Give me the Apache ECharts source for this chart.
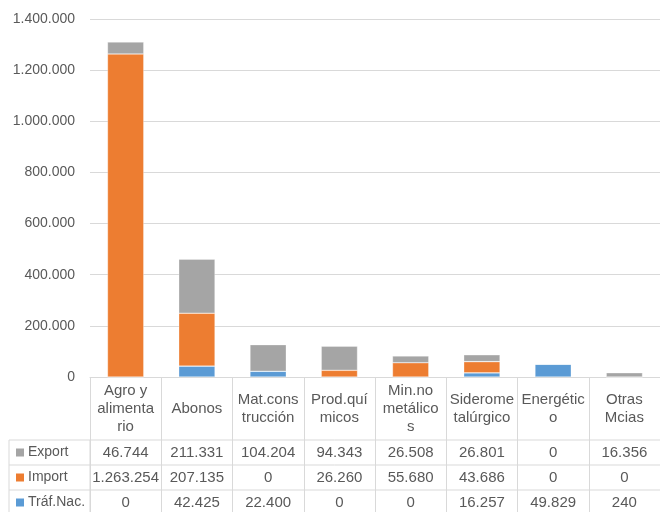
<!DOCTYPE html>
<html>
<head>
<meta charset="utf-8">
<script src="https://cdn.jsdelivr.net/npm/echarts@6/dist/echarts.min.js"></script>
<style>
html,body{margin:0;padding:0;background:#fff;}
#chart{width:660px;height:512px;}
</style>
</head>
<body>
<div id="chart"></div>
<script>
const categories = ['Agro y\nalimenta\nrio','Abonos','Mat.cons\ntrucción','Prod.quí\nmicos','Min.no\nmetálico\ns','Siderome\ntalúrgico','Energétic\no','Otras\nMcias'];
const seriesNames = ['Export','Import','Tráf.Nac.'];
const exportVals = [46744,211331,104204,94343,26508,26801,0,16356];
const importVals = [1263254,207135,0,26260,55680,43686,0,0];
const nacVals = [0,42425,22400,0,0,16257,49829,240];
const yMax = 1400000;
const yStep = 200000;

const colors = {'Export':'#a5a5a5','Import':'#ed7d31','Tráf.Nac.':'#5b9bd5'};
const rowData = {'Export':exportVals,'Import':importVals,'Tráf.Nac.':nacVals};

function fmt(v){
  return String(Math.round(v)).replace(/\B(?=(\d{3})+(?!\d))/g,'.');
}

const FONT = 'Liberation Sans';
const TXT = '#595959';
const LINE = '#d9d9d9';
const gridLeft = 90, gridTop = 19, gridBottom = 135, gridRight = -7;
const headerH = 63, rowH = 25, tableLeft = 9;

const chart = echarts.init(document.getElementById('chart'));

const xAxes = [{
  type:'category', data:categories, gridIndex:0, position:'bottom',
  axisLine:{show:true, lineStyle:{color:LINE, width:1}},
  axisTick:{show:true, length:headerH + rowH*3 + 5, interval:0, lineStyle:{color:LINE, width:1}},
  axisLabel:{interval:0, margin:headerH/2, verticalAlign:'middle', lineHeight:18,
    fontFamily:FONT, fontSize:15, color:TXT}
}];
seriesNames.forEach((name, r) => {
  const vals = rowData[name];
  xAxes.push({
    type:'category', data:categories, gridIndex:0, position:'bottom',
    axisLine:{show:false}, axisTick:{show:false}, splitLine:{show:false},
    axisLabel:{interval:0, margin:headerH + rowH*r + rowH/2, verticalAlign:'middle',
      fontFamily:FONT, fontSize:15, color:TXT,
      formatter:(v, i) => fmt(vals[i])}
  });
});

const stackOrder = ['Tráf.Nac.','Import','Export'];
const series = stackOrder.map(name => ({
  name:name, type:'bar', stack:'total', xAxisIndex:0, yAxisIndex:0,
  data:rowData[name], barWidth:'51%',
  itemStyle:{color:colors[name], borderColor:'rgba(255,255,255,0.5)', borderWidth:0.6},
  emphasis:{disabled:true}
}));

// table lines and row headers
const W = 660, H = 512;
const axisY = H - gridBottom;
const graphics = [];
for (let r = 0; r <= 3; r++) {
  const y = axisY + headerH + rowH*r;
  graphics.push({type:'line', silent:true, shape:{x1:tableLeft, y1:y, x2:W, y2:y},
    style:{stroke:LINE, lineWidth:1}});
}
graphics.push({type:'line', silent:true, shape:{x1:tableLeft, y1:axisY+headerH, x2:tableLeft, y2:H+5},
  style:{stroke:LINE, lineWidth:1}});
graphics.push({type:'line', silent:true, shape:{x1:gridLeft, y1:axisY+headerH, x2:gridLeft, y2:H+5},
  style:{stroke:LINE, lineWidth:1}});
seriesNames.forEach((name, r) => {
  const cy = axisY + headerH + rowH*r + rowH/2;
  graphics.push({type:'rect', silent:true, shape:{x:16, y:cy-4, width:8, height:8},
    style:{fill:colors[name]}});
  graphics.push({type:'text', silent:true, x:28, y:cy,
    style:{text:name, fill:TXT, font:'14px "'+FONT+'"', textVerticalAlign:'middle', verticalAlign:'middle'}});
});

chart.setOption({
  animation:false,
  backgroundColor:'#fff',
  grid:{left:gridLeft, right:gridRight, top:gridTop, bottom:gridBottom, containLabel:false},
  xAxis:xAxes,
  yAxis:{type:'value', min:0, max:yMax, interval:yStep,
    axisLine:{show:false}, axisTick:{show:false},
    splitLine:{lineStyle:{color:LINE, width:1}},
    axisLabel:{margin:15, fontFamily:FONT, fontSize:14, color:TXT, formatter:v => fmt(v)}},
  series:series,
  graphic:graphics
});
</script>
</body>
</html>
